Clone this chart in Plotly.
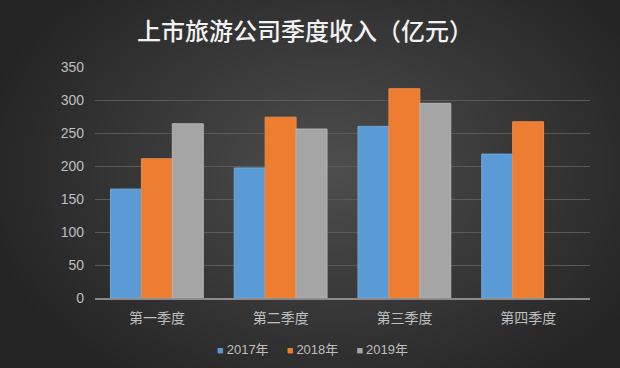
import base64, struct, zlib
import numpy as np
import plotly.graph_objects as go

categories = ["第一季度", "第二季度", "第三季度", "第四季度"]
series_names = ["2017年", "2018年", "2019年"]
v2017 = [165, 197, 260, 218]
v2018 = [211, 274, 317, 267]
v2019 = [264, 256, 295, None]
colors = ["#5b9bd5", "#ed7d31", "#a5a5a5"]
line_colors = ["#6fa8dc", "#f08a45", "#b5b5b5"]

W, H = 620, 368
ML, MR, MT, MB = 95, 30, 67, 70

# radial gradient background as PNG data URI
yy, xx = np.mgrid[0:H, 0:W]
d = np.sqrt(((xx - 330) / 360.0) ** 2 + ((yy - 170) / 260.0) ** 2)
d = np.clip(d, 0, 1)
inner, outer = 78, 36
val = (inner + (outer - inner) * d).astype(np.uint8)
rgb = np.stack([val, val, val], axis=-1)
raw = b"".join(b"\x00" + rgb[r].tobytes() for r in range(H))
def chunk(t, data):
    c = struct.pack(">I", len(data)) + t + data
    return c + struct.pack(">I", zlib.crc32(t + data) & 0xffffffff)
png = b"\x89PNG\r\n\x1a\n" + chunk(b"IHDR", struct.pack(">IIBBBBB", W, H, 8, 2, 0, 0, 0)) + \
      chunk(b"IDAT", zlib.compress(raw, 9)) + chunk(b"IEND", b"")
uri = "data:image/png;base64," + base64.b64encode(png).decode()

fig = go.Figure()
for name, vals, c, lc in zip(series_names, [v2017, v2018, v2019], colors, line_colors):
    fig.add_trace(go.Bar(x=categories, y=vals, name=name,
                         marker=dict(color=c, line=dict(color=lc, width=1))))

font = "Noto Sans CJK SC"
pw, ph = W - ML - MR, H - MT - MB

legend_text = "&nbsp;&nbsp;&nbsp;&nbsp;&nbsp;".join(
    f"<span style='color:{c};font-size:11px'>■&nbsp;</span>{n}"
    for n, c in zip(series_names, colors))

fig.update_layout(
    width=W, height=H,
    barmode="group", bargap=0.25, bargroupgap=0,
    paper_bgcolor="#3a3a3a", plot_bgcolor="rgba(0,0,0,0)",
    margin=dict(l=ML, r=MR, t=MT, b=MB, autoexpand=False),
    title=dict(text="上市旅游公司季度收入（亿元）", x=(305) / W, xanchor="center",
               y=1 - 32 / H, yanchor="middle",
               font=dict(family=font, size=24, color="#f2f2f2", weight=500)),
    font=dict(family=font, color="#bfbfbf", size=14),
    showlegend=False,
    annotations=[dict(text=legend_text, xref="paper", yref="paper",
                      x=(312 - ML) / pw, y=-(349 - (H - MB)) / ph,
                      xanchor="center", yanchor="middle", showarrow=False,
                      font=dict(family="Liberation Sans, Noto Sans CJK SC", size=13,
                                color="#bfbfbf"))],
    images=[dict(source=uri, xref="paper", yref="paper",
                 x=-ML / pw, sizex=W / pw, y=1 + MT / ph, sizey=H / ph,
                 xanchor="left", yanchor="top", layer="below", sizing="stretch")],
    yaxis=dict(range=[0, 350], dtick=50, tick0=0, gridcolor="#5a5a5a", gridwidth=1,
               zeroline=False, showline=False, ticks="", ticklabelstandoff=10,
               tickfont=dict(family="Liberation Sans", size=14, color="#bfbfbf")),
    xaxis=dict(showline=True, linecolor="#8a8a8a", linewidth=1.5, ticks="",
               ticklabelstandoff=6,
               tickfont=dict(size=14, color="#bfbfbf")),
)

fig.write_html("out.html", config={"displayModeBar": False},
               post_script="document.body.style.margin='0';document.body.style.overflow='hidden';")
